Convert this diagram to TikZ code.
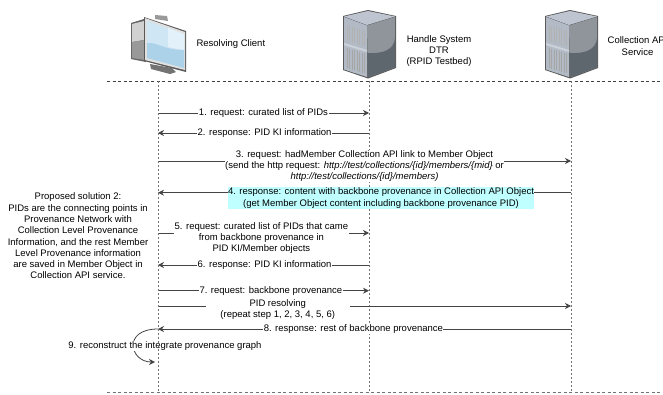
\documentclass[tikz,border=0pt]{standalone}
\usepackage{fontspec}
\usetikzlibrary{arrows.meta}
\setmainfont{Liberation Sans}
\definecolor{hlcyan}{HTML}{BFFFFF}
\definecolor{msgline}{HTML}{444444}
\definecolor{screenblue}{HTML}{CFE6F4}
\definecolor{panelblue}{HTML}{E2F1FA}
\definecolor{waveblue}{HTML}{ABD2E8}
\tikzset{
  msg/.style={-{Stealth[length=6pt,width=6pt]},draw=msgline,line width=0.8pt},
  lbl/.style={fill=white,inner sep=0.5pt,align=center},
  lifeline/.style={draw=black!55,line width=1pt,dash pattern=on 2pt off 2pt,line cap=butt},
  rule/.style={draw=black!75,line width=0.7pt,dash pattern=on 3pt off 2.5pt,line cap=butt},
  serverpic/.pic={
    \fill[fill=black!65] (-25,16)--(0,10)--(28,16)--(28,68)--(0,78.5)--(-25,70)--cycle;
    \fill[fill={rgb,255:red,190;green,197;blue,209}] (-24,16.5)--(0,11)--(27,16.5)--(-1,25)--cycle;
    \fill[fill={rgb,255:red,178;green,186;blue,198}] (-24,17)--(-1,25.5)--(-1,77)--(-24,69.5)--cycle;
    \fill[fill={rgb,255:red,143;green,149;blue,154}] (-1,25.5)--(27,17)--(27,67.5)--(0,77)--cycle;
    \fill[fill={rgb,255:red,94;green,102;blue,110}] (-1,53) .. controls (15,54) and (26,50) .. (27,38)--(27,67.5)--(0,77)--cycle;
    \fill[fill={rgb,255:red,205;green,210;blue,218}] (-24,43)--(-1,50)--(-1,52)--(-24,45)--cycle;
    \foreach \gx in {-21,-18.5,...,-3}{
      \draw[black!30,line width=0.7pt] (\gx,{25+(\gx+21)*0.3}) -- (\gx,{41+(\gx+21)*0.3});
      \draw[black!35,line width=0.7pt] (\gx,{48+(\gx+21)*0.3}) -- (\gx,{68+(\gx+21)*0.3});
    }
  },
}
\begin{document}
\begin{tikzpicture}[x=1pt,y=-1pt,font=\fontsize{9.5}{11.3}\selectfont,line join=round,>=stealth]
\def\xc{158} \def\xh{369} \def\xa{571}
\clip (0,0) rectangle (663,394);
\fill[white] (0,0) rectangle (663,394);
% client icon
\fill[black!40] (155,15)--(167,16)--(168,21)--(155,19)--cycle;
\fill[black!60] (131,23)--(144,19)--(146,62)--(131,59)--cycle;
\fill[black!18] (132,24)--(144,21)--(144,40)--(132,42)--cycle;
\fill[black!40] (132,42)--(144,40)--(145,60)--(132,58)--cycle;
\fill[black!55] (150,64)--(172,68)--(176,72)--(170,74)--(151,69)--cycle;
\fill[black!65] (144,17)--(186,31)--(186,72)--(144,61)--cycle;
\fill[black!12] (145,18)--(185,32)--(185,70)--(145,60)--cycle;
\fill[screenblue] (147,21)--(184,34)--(184,68)--(147,58)--cycle;
\fill[panelblue] (168,28)--(184,34)--(184,50)--(168,47)--cycle;
\fill[waveblue] (147,43) .. controls (158,42) and (163,50) .. (184,50)--(184,68)--(147,58)--cycle;
% server icons
\pic at (368,0) {serverpic};
\pic at (570,0) {serverpic};
% titles
\node[anchor=west] (client) at (193,44) {Resolving Client};
\node[align=center] (handle) at (439,51) {Handle System\\DTR\\(RPID Testbed)};
\node[align=center] (capi) at (637.5,46) {Collection API\\Service};
% lifelines
\coordinate (ctop) at (\xc,81); \coordinate (cbot) at (\xc,393);
\coordinate (htop) at (\xh,81); \coordinate (hbot) at (\xh,393);
\coordinate (atop) at (\xa,81); \coordinate (abot) at (\xa,393);
\coordinate (rl) at (107,81); \coordinate (rr) at (663,81);
\coordinate (bl) at (107,392.7); \coordinate (br) at (663,392.7);
\draw[rule] (rl)--(rr);
\draw[rule,draw=black!55,line width=1pt] (bl)--(br);
\draw[lifeline] (htop)--(hbot);
\draw[lifeline] (atop)--(abot);
% messages
\coordinate (c1) at (\xc,113); \coordinate (h1) at (\xh,113);
\draw[msg] (c1)--(h1) node[lbl,pos=.5] (m1) {1. request: curated list of PIDs};
\coordinate (c2) at (\xc,133); \coordinate (h2) at (\xh,133);
\draw[msg] (h2)--(c2) node[lbl,pos=.495] (m2) {2. response: PID KI information};
\coordinate (c3) at (\xc,161); \coordinate (a3) at (\xa,161);
\draw[msg] (c3)--(a3) node[lbl,pos=.5,yshift=-5pt] (m3) {3. request: hadMember Collection API link to Member Object\\(send the http request: \textit{http://test/collections/\{id\}/members/\{mid\}} or\\\textit{http://test/collections/\{id\}/members)}};
\coordinate (c4) at (\xc,192.7); \coordinate (a4) at (\xa,192.7);
\draw[msg] (a4)--(c4) node[lbl,fill=hlcyan,pos=.46,yshift=-5.3pt,minimum width=306pt,minimum height=22pt] (m4) {4. response: content with backbone provenance in Collection API Object\\(get Member Object content including backbone provenance PID)};
\coordinate (c5) at (\xc,233); \coordinate (h5) at (\xh,233);
\draw[msg] (c5)--(h5) node[lbl,pos=.49,yshift=-5pt] (m5) {5. request: curated list of PIDs that came\\from backbone provenance in\\PID KI/Member objects};
\coordinate (c6) at (\xc,265); \coordinate (h6) at (\xh,265);
\draw[msg] (h6)--(c6) node[lbl,pos=.495] (m6) {6. response: PID KI information};
\coordinate (c7) at (\xc,290.7); \coordinate (h7) at (\xh,290.7);
\draw[msg] (c7)--(h7) node[lbl,pos=.535,minimum width=144pt] (m7) {7. request: backbone provenance};
\coordinate (cr) at (\xc,306); \coordinate (ar) at (\xa,306);
\draw[msg] (cr)--(ar) node[lbl,pos=.29,yshift=-3.5pt,minimum width=144pt] (mr) {PID resolving\\(repeat step 1, 2, 3, 4, 5, 6)};
\coordinate (c8) at (\xc,329); \coordinate (a8) at (\xa,329);
\draw[msg] (a8)--(c8) node[lbl,pos=.527] (m8) {8. response: rest of backbone provenance};
\coordinate (c9) at (155,362);
\draw[msg] (c8) .. controls (122,329) and (130,362) .. (c9);
\node[lbl] (m9) at (165,345.6) {9. reconstruct the integrate provenance graph};
% left note
\node[align=center] (note) at (78,236) {Proposed solution 2:\\PIDs are the connecting points in\\Provenance Network with\\Collection Level Provenance\\Information, and the rest Member\\Level Provenance information\\are saved in Member Object in\\Collection API service.};
\draw[lifeline] (ctop)--(cbot);
\end{tikzpicture}
\end{document}
